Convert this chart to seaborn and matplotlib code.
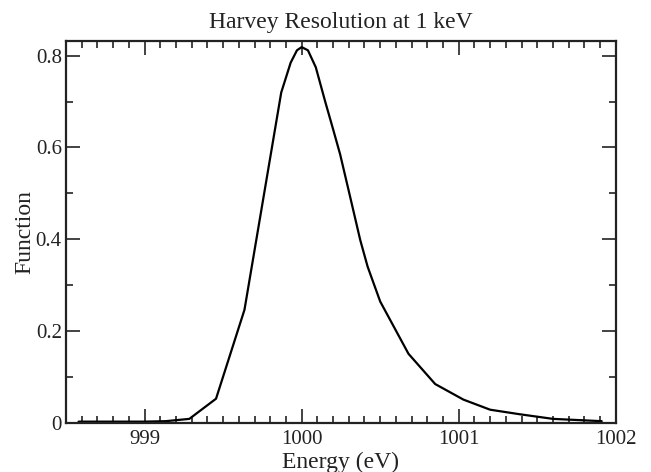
import numpy as np
import pandas as pd
import matplotlib
matplotlib.use("Agg")
import matplotlib.pyplot as plt
from matplotlib.ticker import MultipleLocator, FuncFormatter
import seaborn as sns

# Harvey resolution function sampled around 1 keV
energy = [998.58, 998.80, 999.00, 999.135, 999.285, 999.455, 999.636, 999.87,
          999.93, 999.97, 1000.00, 1000.04, 1000.09, 1000.15, 1000.20, 1000.245,
          1000.30, 1000.373, 1000.42, 1000.50, 1000.68, 1000.85, 1001.03, 1001.20,
          1001.39, 1001.60, 1001.91]
function = [0.002, 0.002, 0.002, 0.003, 0.008, 0.052, 0.246, 0.720,
            0.785, 0.812, 0.819, 0.812, 0.775, 0.700, 0.640, 0.585,
            0.505, 0.398, 0.340, 0.264, 0.150, 0.084, 0.050, 0.028,
            0.018, 0.008, 0.003]

title = "Harvey Resolution at 1 keV"
xlabel = "Energy (eV)"
ylabel = "Function"

sns.set_style("ticks")
plt.rcParams["font.family"] = ["Liberation Serif", "DejaVu Serif"]

df = pd.DataFrame({"Energy": energy, "Function": function})

fig = plt.figure(figsize=(6.51, 4.72), dpi=100)
ax = fig.add_axes([0.1014, 0.1038, 0.8446, 0.81])

sns.lineplot(data=df, x="Energy", y="Function", ax=ax, color="black",
             linewidth=1.6, sort=False, estimator=None)

ax.set_xlim(998.5, 1002)
ax.set_ylim(-0.001, 0.833)

ax.xaxis.set_major_locator(MultipleLocator(1))
ax.xaxis.set_minor_locator(MultipleLocator(0.1))
ax.yaxis.set_major_locator(MultipleLocator(0.2))
ax.yaxis.set_minor_locator(MultipleLocator(0.1))
ax.xaxis.set_major_formatter(FuncFormatter(lambda v, p: f"{v:.0f}"))
ax.yaxis.set_major_formatter(FuncFormatter(lambda v, p: "0" if abs(v) < 1e-9 else f"{v:g}"))

ax.tick_params(which="major", direction="in", length=10, width=1.2,
               top=True, right=True, labelsize=15, colors="#222222")
ax.tick_params(which="minor", direction="in", length=5, width=1.2,
               top=True, right=True, colors="#222222")
ax.tick_params(axis="x", which="major", pad=5)
ax.tick_params(axis="y", which="major", pad=3)

for s in ax.spines.values():
    s.set_linewidth(1.6)
    s.set_color("#222222")

ax.set_title(title, fontsize=17, pad=9, color="#222222")
ax.set_xlabel(xlabel, fontsize=17, labelpad=2, color="#222222")
ax.set_ylabel(ylabel, fontsize=17, labelpad=0, color="#222222")

fig.savefig("out.png", dpi=100)
